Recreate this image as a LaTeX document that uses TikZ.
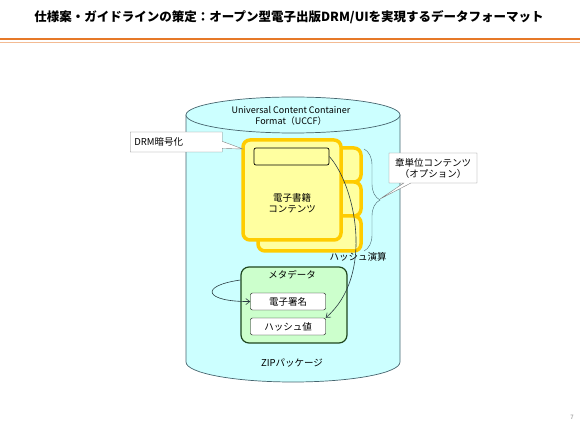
\documentclass[tikz,border=0pt]{standalone}
\usepackage{fontspec}
\setmainfont{Noto Sans CJK JP}
\usetikzlibrary{shapes.callouts, decorations.pathreplacing, arrows.meta}

\definecolor{uccf}{RGB}{204,255,255}
\definecolor{uccfline}{RGB}{70,100,110}
\definecolor{pagefill}{RGB}{255,255,160}
\definecolor{pageline}{RGB}{255,204,0}
\definecolor{metafill}{RGB}{204,255,204}
\definecolor{metaline}{RGB}{30,70,30}
\definecolor{barline}{RGB}{230,120,40}

\begin{document}
\begin{tikzpicture}[x=1pt, y=-1pt, font=\fontsize{9.5}{11}\selectfont,
        page/.style={draw=pageline, fill=pagefill, line width=3.5pt, rounded corners=7pt},
        inbox/.style={draw, fill=white, rounded corners=2pt, minimum width=75pt, minimum height=17pt, inner sep=0pt},
        note/.style={rectangle callout, draw=gray, fill=white, align=center, inner sep=3pt},
        link/.style={-{Straight Barb[length=4pt, width=6pt]}, uccfline!60!black, line width=0.6pt}]
        \useasboundingbox (0,0) rectangle (580,427);
        % title
        \node[font=\fontsize{12.5}{15}\bfseries] (title) at (289,17) {仕様案・ガイドラインの策定：オープン型電子出版DRM/UIを実現するデータフォーマット};
        \draw[barline, line width=2pt] (0,39) -- (580,39);
        \draw[barline!50, line width=1pt] (0,42.5) -- (580,42.5);
        % container
        \filldraw[fill=uccf, draw=uccfline, line width=0.7pt] (186,115) -- (186,362) arc[start angle=180, end angle=0, x radius=107, y radius=20] -- (400,115) -- cycle;
        \filldraw[fill=uccf, draw=uccfline, line width=0.7pt] (293,115) ellipse[x radius=107, y radius=18];
        \node[align=center, font=\fontsize{9}{11}\selectfont] (uccf) at (291,116) {Universal Content Container\\Format（UCCF）};
        % contents
        \draw[page] (250,148) rectangle (361,182);
        \draw[page] (250,182) rectangle (361,216);
        \draw[page] (258,216) rectangle (361,251);
        \node[page, minimum width=98pt, minimum height=100pt] (ebook) at (292,190) {};
        \node[align=center] (ebooktxt) at (292,203) {電子書籍\\コンテンツ};
        \node[inbox, fill=pagefill, line width=0.7pt, minimum width=75pt] (drm) at (291.5,156.5) {};
        \draw[uccfline, decorate, decoration={brace, amplitude=16pt, aspect=0.5}] (364,149) -- (364,251);
        \node (hashop) at (358,257) {ハッシュ演算};
        % metadata
        \node[draw=metaline, fill=metafill, line width=1.2pt, rounded corners=8pt, minimum width=106pt, minimum height=76pt] (meta) at (294,305) {};
        \node (metattl) at (292,275) {メタデータ};
        \node[inbox] (sig) at (288,301.5) {電子署名};
        \node[inbox] (hash) at (288,326.5) {ハッシュ値};
        \node (zip) at (292,363) {ZIPパッケージ};
        \draw[link] (drm.east) .. controls (355,185) and (375,275) .. (hash.north east);
        \draw[link] (meta.155) .. controls (198,286) and (205,302) .. (sig.west);
        % callouts
        \node[note, minimum width=92pt, minimum height=20pt, anchor=west, callout absolute pointer={(243,149)}] (drmnote) at (130,142) {DRM暗号化\hspace{35pt}};
        \node[note, minimum width=88pt, minimum height=30pt, callout absolute pointer={(380,199)}] (chapnote) at (433,168) {章単位コンテンツ\\（オプション）};
        \node[gray, font=\fontsize{6}{7}\selectfont] (pgno) at (572,417) {7};
\end{tikzpicture}
\end{document}
